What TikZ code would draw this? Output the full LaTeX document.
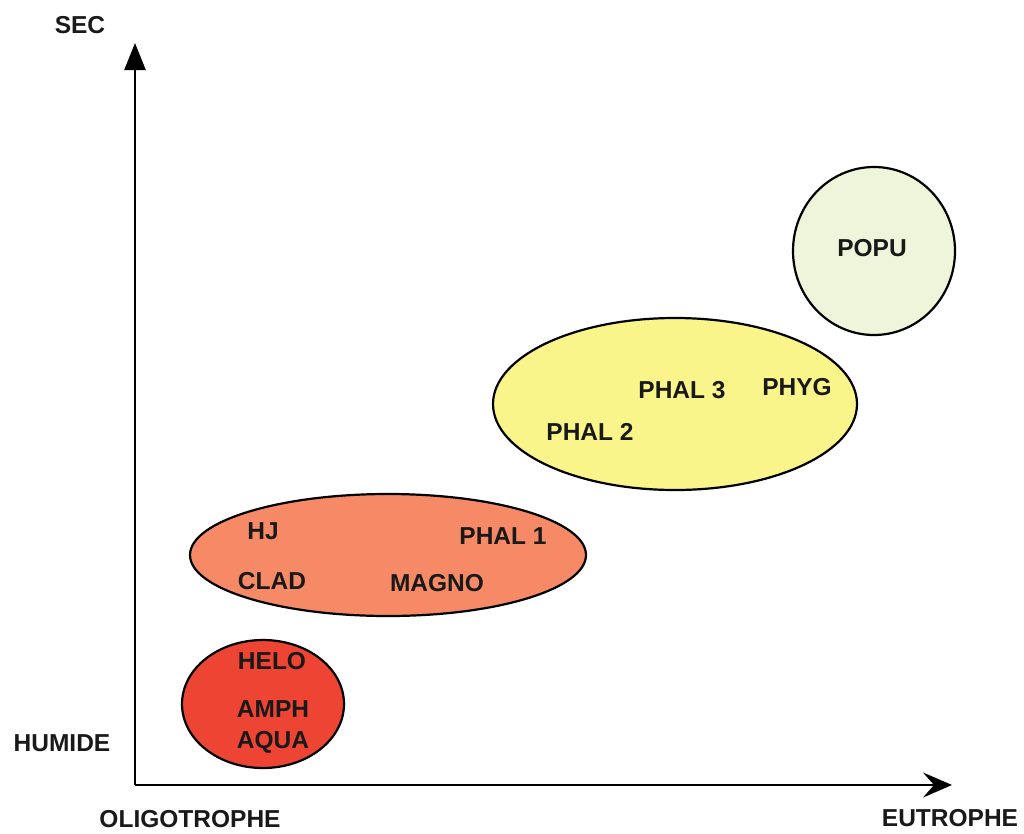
\documentclass[tikz,border=0pt]{standalone}
\usepackage{fontspec}
\setmainfont{Liberation Sans}
\usetikzlibrary{shapes.geometric,arrows.meta}
\definecolor{cred}{HTML}{EE4433}
\definecolor{csalmon}{HTML}{F68A66}
\definecolor{cyellow}{HTML}{FAF58A}
\definecolor{cgreen}{HTML}{EEF5DA}
\begin{document}
\begin{tikzpicture}[x=1pt,y=-1pt,
  lbl/.style={font=\fontsize{24.5}{28}\selectfont\bfseries, text=black!90, inner sep=0pt},
  zone/.style={ellipse, draw=black, line width=2.2pt, inner sep=0pt}]
\useasboundingbox[fill=white] (0,0) rectangle (1024,833);
% zones
\node[zone, fill=cred, minimum width=162pt, minimum height=128pt] (z1) at (263,704) {};
\node[zone, fill=csalmon, minimum width=396pt, minimum height=122pt] (z2) at (388,555) {};
\node[zone, fill=cyellow, minimum width=364pt, minimum height=172pt] (z3) at (675,404) {};
\node[zone, fill=cgreen, minimum width=162pt, minimum height=168pt] (z4) at (874,251) {};
% axes
\coordinate (o) at (135,785);
\coordinate (ytop) at (135,43);
\coordinate (xend) at (952,785);
\draw[line width=2.6pt, -{Triangle[width=21pt,length=27pt]}] (o) -- (ytop);
\draw[line width=2.6pt, -{Stealth[width=25pt,length=29pt,inset=11pt]}] (o) -- (xend);
% axis labels
\node[lbl] (sec) at (80,25) {SEC};
\node[lbl] (hum) at (62,743) {HUMIDE};
\node[lbl] (oli) at (190,819) {OLIGOTROPHE};
\node[lbl] (eut) at (950,818) {EUTROPHE};
% zone labels
\node[lbl] (helo) at (272,661) {HELO};
\node[lbl] (amph) at (273,709) {AMPH};
\node[lbl] (aqua) at (273,742) {AQUA};
\node[lbl] (hj) at (263,531) {HJ};
\node[lbl] (phal1) at (503,536) {PHAL 1};
\node[lbl] (clad) at (272,581) {CLAD};
\node[lbl] (magno) at (437,583) {MAGNO};
\node[lbl] (phal3) at (682,390) {PHAL 3};
\node[lbl] (phyg) at (797,387) {PHYG};
\node[lbl] (phal2) at (590,432) {PHAL 2};
\node[lbl] (popu) at (872,248) {POPU};
\end{tikzpicture}
\end{document}
